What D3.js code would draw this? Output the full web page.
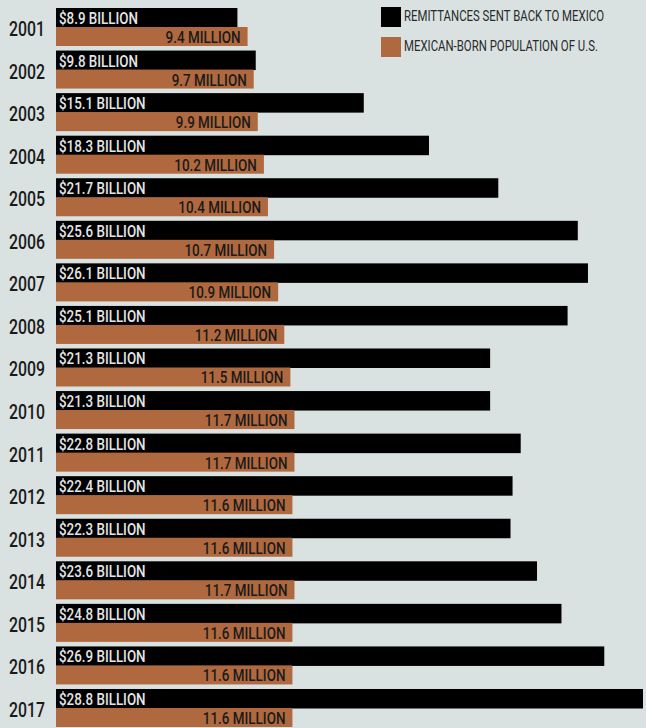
<!DOCTYPE html>
<html>
<head>
<meta charset="utf-8">
<script src="https://cdn.jsdelivr.net/npm/d3@7"></script>
<style>
  body { margin: 0; background: #d9e2e1; }
  svg { display: block; }
  text { font-family: Roboto, "DejaVu Sans", sans-serif; }
</style>
</head>
<body>
<div id="chart-area"></div>
<script>
const years = ['2001', '2002', '2003', '2004', '2005', '2006', '2007', '2008', '2009',
    '2010', '2011', '2012', '2013', '2014', '2015', '2016', '2017'];
const remittances = [8.9, 9.8, 15.1, 18.3, 21.7, 25.6, 26.1, 25.1, 21.3, 21.3, 22.8, 22.4, 22.3, 23.6, 24.8, 26.9, 28.8];
const population = [9.4, 9.7, 9.9, 10.2, 10.4, 10.7, 10.9, 11.2, 11.5, 11.7, 11.7, 11.6, 11.6, 11.7, 11.6, 11.6, 11.6];
const legendLabels = ['REMITTANCES SENT BACK TO MEXICO', 'MEXICAN-BORN POPULATION OF U.S.'];

const width = 646;
const height = 728;
const black = '#000000';
const brown = '#b0693e';

const data = years.map((y, i) => ({year: y, rem: remittances[i], pop: population[i]}));

const svg = d3.select('#chart-area')
    .append('svg')
    .attr('width', width)
    .attr('height', height);

svg.append('rect')
    .attr('width', width)
    .attr('height', height)
    .attr('fill', '#d9e2e1');

// the original uses a condensed face, so squeeze text horizontally
// by a ratio measured from one sample string
function condense(sel, sample, targetWidth) {
    const probe = svg.append('text')
        .attr('font-size', sel.attr('font-size'))
        .attr('font-weight', sel.attr('font-weight'))
        .text(sample);
    const k = targetWidth / probe.node().getComputedTextLength();
    probe.remove();
    sel.each(function() {
        const w = this.getComputedTextLength();
        d3.select(this)
            .attr('textLength', w * k)
            .attr('lengthAdjust', 'spacingAndGlyphs');
    });
}

const x = d3.scaleLinear()
    .domain([0, 28.8])
    .range([56, 643]);

const y = d3.scaleBand()
    .domain(years)
    .range([8, 727])
    .paddingInner(0.107)
    .paddingOuter(0);

const sub = d3.scaleBand()
    .domain(['rem', 'pop'])
    .range([0, y.bandwidth()]);

const rows = svg.selectAll('g.row')
    .data(data)
    .enter()
    .append('g')
    .attr('class', 'row')
    .attr('transform', d => `translate(0, ${y(d.year)})`);

rows.append('rect')
    .attr('x', x(0))
    .attr('y', sub('rem'))
    .attr('width', d => x(d.rem) - x(0))
    .attr('height', sub.bandwidth() + 0.5)
    .attr('fill', black);

rows.append('rect')
    .attr('x', x(0))
    .attr('y', sub('pop'))
    .attr('width', d => x(d.pop) - x(0))
    .attr('height', sub.bandwidth())
    .attr('fill', brown);

const remLabels = rows.append('text')
    .attr('x', x(0) + 3)
    .attr('y', sub('rem') + 16)
    .attr('font-size', '17px')
    .attr('font-weight', '500')
    .attr('fill', '#e4e6e6')
    .text(d => `$${d3.format('.1f')(d.rem)} BILLION`);
condense(remLabels, '$8.9 BILLION', 79);

const popLabels = rows.append('text')
    .attr('x', d => x(d.pop) - 7)
    .attr('y', sub('pop') + 16)
    .attr('font-size', '17px')
    .attr('font-weight', '500')
    .attr('text-anchor', 'end')
    .attr('fill', '#1a1a1a')
    .text(d => `${d3.format('.1f')(d.pop)} MILLION`);
condense(popLabels, '9.4 MILLION', 75);

const yearLabels = rows.append('text')
    .attr('x', 9)
    .attr('y', sub('pop') + 9)
    .attr('font-size', '20px')
    .attr('font-weight', '500')
    .attr('fill', '#1a1a1a')
    .text(d => d.year);
condense(yearLabels, '2003', 36);

// legend
const legend = svg.append('g')
    .attr('transform', 'translate(381, 7)');

legendLabels.forEach((label, i) => {
    legend.append('rect')
        .attr('x', 0)
        .attr('y', i * 30)
        .attr('width', 20)
        .attr('height', 20)
        .attr('fill', i === 0 ? black : brown);
});

const legendText = legend.selectAll('text.legend')
    .data(legendLabels)
    .enter()
    .append('text')
    .attr('class', 'legend')
    .attr('x', 23)
    .attr('y', (d, i) => i * 30 + 14)
    .attr('font-size', '14px')
    .attr('font-weight', '400')
    .attr('fill', '#2a2a2a')
    .text(d => d);
condense(legendText, legendLabels[0], 200);
</script>
</body>
</html>
